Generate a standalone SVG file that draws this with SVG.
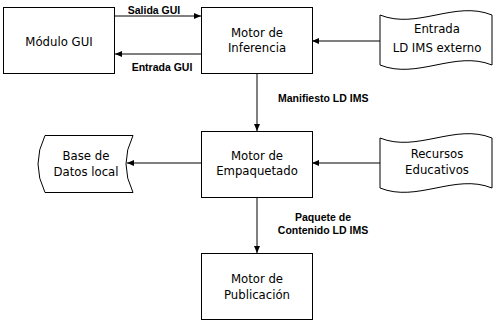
<svg xmlns="http://www.w3.org/2000/svg" width="498" height="326" viewBox="0 0 498 326">
<defs>
<marker id="ah" viewBox="0 0 7 6" refX="7" refY="3" markerWidth="7" markerHeight="6" markerUnits="userSpaceOnUse" orient="auto">
<path d="M0,0 L7,3 L0,6 Z" fill="#000"/>
</marker>
<style>
.n{fill:#fff;stroke:#000;stroke-width:1}
.t{font-family:"DejaVu Sans Condensed","DejaVu Sans",sans-serif;font-size:13px;text-anchor:middle;fill:#000}
.l{font-family:"Liberation Sans",Arial,sans-serif;font-size:10.5px;font-weight:bold;fill:#000}
.c{stroke:#000;stroke-width:1;fill:none;marker-end:url(#ah)}
</style>
</defs>
<rect width="498" height="326" fill="#fff"/>
<g id="connectors">
<line class="c" x1="115" y1="16" x2="201" y2="16"/>
<line class="c" x1="201" y1="54" x2="115" y2="54"/>
<line class="c" x1="380" y1="41" x2="312" y2="41"/>
<line class="c" x1="257" y1="73" x2="257" y2="131"/>
<line class="c" x1="201" y1="163" x2="127" y2="163"/>
<line class="c" x1="380" y1="163" x2="312" y2="163"/>
<line class="c" x1="257" y1="197" x2="257" y2="253"/>
<text class="l" x="154" y="14" text-anchor="middle">Salida GUI</text>
<text class="l" x="162" y="71" text-anchor="middle">Entrada GUI</text>
<text class="l" x="278" y="102">Manifiesto LD IMS</text>
<text class="l" x="323" y="221" text-anchor="middle">Paquete de</text>
<text class="l" x="323" y="234" text-anchor="middle">Contenido LD IMS</text>
</g>
<g id="modulo-gui">
<rect class="n" x="3.5" y="7.5" width="111" height="66"/>
<text class="t" x="59" y="46">Módulo GUI</text>
</g>
<g id="motor-inferencia">
<rect class="n" x="201.5" y="7.5" width="111" height="66"/>
<text class="t" x="257" y="37">Motor de</text>
<text class="t" x="257" y="52">Inferencia</text>
</g>
<g id="entrada-ld-ims">
<path class="n" d="M380,15 C417,30 455,0 492,15 L492,65 C455,50 417,80 380,65 Z"/>
<text class="t" x="437" y="33">Entrada</text>
<text class="t" x="437" y="52">LD IMS externo</text>
</g>
<g id="motor-empaquetado">
<rect class="n" x="201.5" y="131.5" width="111" height="66"/>
<text class="t" x="257" y="160">Motor de</text>
<text class="t" x="257" y="175">Empaquetado</text>
</g>
<g id="base-datos">
<path class="n" d="M45,135.5 L133,135.5 Q119,164 133,192.5 L45,192.5 Q31,164 45,135.5 Z"/>
<text class="t" x="86" y="160">Base de</text>
<text class="t" x="86" y="176">Datos local</text>
</g>
<g id="recursos">
<path class="n" d="M380,138 C417,153 455,123 492,138 L492,188 C455,173 417,203 380,188 Z"/>
<text class="t" x="437" y="158">Recursos</text>
<text class="t" x="437" y="174">Educativos</text>
</g>
<g id="motor-publicacion">
<rect class="n" x="201.5" y="253.5" width="111" height="66"/>
<text class="t" x="257" y="283">Motor de</text>
<text class="t" x="257" y="299">Publicación</text>
</g>
</svg>
